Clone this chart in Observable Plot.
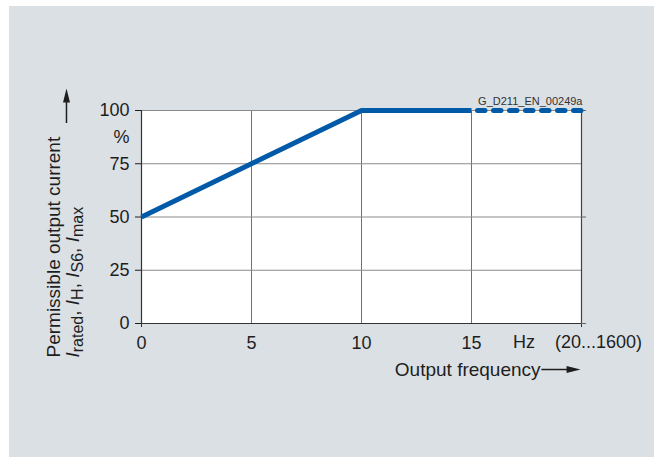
<!DOCTYPE html>
<html><head><meta charset="utf-8">
<script src="https://cdn.jsdelivr.net/npm/d3@7"></script>
<script src="https://cdn.jsdelivr.net/npm/@observablehq/plot@0.6"></script>
<style>
html,body{margin:0;padding:0;background:#fff;}
#wrap{position:relative;width:654px;height:457px;background:#fff;overflow:hidden;}
#bg{position:absolute;left:9px;top:6px;right:0;bottom:0;background:#dbe0e4;}
#chart{position:absolute;left:0;top:0;}
</style></head><body>
<div id="wrap"><div id="bg"></div><div id="chart"></div></div>
<script>
const freqSolid = [0, 10, 15];
const currentSolid = [50, 100, 100];
const freqDashed = [15, 20];
const currentDashed = [100, 100];
const xTicks = [0, 5, 10, 15, 20];
const xTickLabels = ["0", "5", "10", "15", ""];
const yTicks = [0, 25, 50, 75, 100];
const gridX = [5, 10, 15];
const gridY = [25, 50, 75];
const yUnit = "%";
const xUnit = "Hz";
const xRangeNote = "(20...1600)";
const xTitle = "Output frequency";
const yTitle1 = "Permissible output current";
const yTitle2 = "Irated, IH, IS6, Imax";
const yTitle2Parts = [["I","i"],["rated","s"],[", ",""],["I","i"],["H","s"],[", ",""],["I","i"],["S6","s"],[", ",""],["I","i"],["max","s"]];
const figId = "G_D211_EN_00249a";

const blue = "#005aa8";
const ink = "#1e1e1e";
const solid = freqSolid.map((f, i) => ({f, c: currentSolid[i]}));
const dashed = freqDashed.map((f, i) => ({f, c: currentDashed[i]}));

const marks = [
  Plot.frame({fill: "white", stroke: "none"}),
  Plot.ruleX(gridX, {stroke: "#707070", strokeWidth: 1}),
  Plot.ruleY(gridY, {stroke: "#8a8a8a", strokeWidth: 1}),
  Plot.ruleY([100], {stroke: "#8a8a8a", strokeWidth: 1}),
  Plot.ruleX([20], {stroke: "#444", strokeWidth: 1.2}),
  Plot.ruleX([0], {stroke: "#333", strokeWidth: 1.2}),
  Plot.ruleY([0], {stroke: "#333", strokeWidth: 1.2}),
  Plot.ruleX([0, 20], {y1: 0, y2: -1.9, stroke: "#333"}),
  Plot.ruleY([0, 50, 100], {x1: 20, x2: 20.23, stroke: "#666"}),
  Plot.line(solid, {x: "f", y: "c", stroke: blue, strokeWidth: 5, strokeLinejoin: "miter", strokeLinecap: "butt"}),
  Plot.line(dashed, {x: "f", y: "c", stroke: blue, strokeWidth: 5, strokeDasharray: "7.5,8.5", strokeDashoffset: 10}),
  Plot.text([yUnit], {x: 0, y: 100, dx: -12, dy: 27, textAnchor: "end", fontSize: 18, fill: ink}),
  Plot.text([xUnit], {x: 17.39, y: 0, dy: 19, fontSize: 18, fill: ink}),
  Plot.text([xRangeNote], {x: 20, y: 0, dx: 17, dy: 19, fontSize: 18, fill: ink}),
  Plot.text([xTitle], {x: 18.14, y: -21.6, textAnchor: "end", fontSize: 19, fill: ink}),
  Plot.ruleY([{y: -21.6, x1: 18.2, x2: 19.4}], {y: "y", x1: "x1", x2: "x2", stroke: ink, strokeWidth: 1.5}),
  Plot.ruleX([{x: -3.41, y1: 93.9, y2: 104}], {x: "x", y1: "y1", y2: "y2", stroke: ink, strokeWidth: 1.5}),
  Plot.text([yTitle1], {x: -4.0, y: -15.96, rotate: -90, textAnchor: "start", fontSize: 19, fill: ink}),
  Plot.text([yTitle2], {x: -3.14, y: -15.96, rotate: -90, textAnchor: "start", fontSize: 19, fill: ink}),
  Plot.text([figId], {x: 20, y: 100, dx: 1, dy: -9.5, textAnchor: "end", fontSize: 11, fill: "#333"})
];
try {
  marks.push(Plot.vector([{x: 19.32, y: -21.6}], {x: "x", y: "y", length: 14, rotate: 90, anchor: "start", shape: "spike", r: 3.5, fill: ink}));
  marks.push(Plot.vector([{x: -3.41, y: 103.8}], {x: "x", y: "y", length: 14, rotate: 0, anchor: "start", shape: "spike", r: 3.5, fill: ink}));
} catch (e) {}

const chart = Plot.plot({
  width: 654, height: 457,
  marginLeft: 141, marginRight: 73, marginTop: 110, marginBottom: 134,
  style: {background: "transparent", fontFamily: "'Liberation Sans', Arial, sans-serif", fontSize: "18px", color: ink},
  x: {domain: [0, 20], ticks: xTicks, tickFormat: d => xTickLabels[xTicks.indexOf(d)], tickSize: 0, tickPadding: 13, label: null},
  y: {domain: [0, 100], ticks: yTicks, tickSize: 6, tickPadding: 6, label: null},
  marks
});
document.getElementById("chart").appendChild(chart);

d3.select(chart).selectAll("text").filter(function() { return this.textContent === yTitle2; }).each(function() {
  const t = d3.select(this);
  t.text(null);
  for (const [s, k] of yTitle2Parts) {
    const ts = t.append("tspan").text(s);
    if (k === "i") ts.attr("font-style", "italic");
    if (k === "s") ts.attr("baseline-shift", "-22%").attr("font-size", 16);
  }
});
</script>
</body></html>
